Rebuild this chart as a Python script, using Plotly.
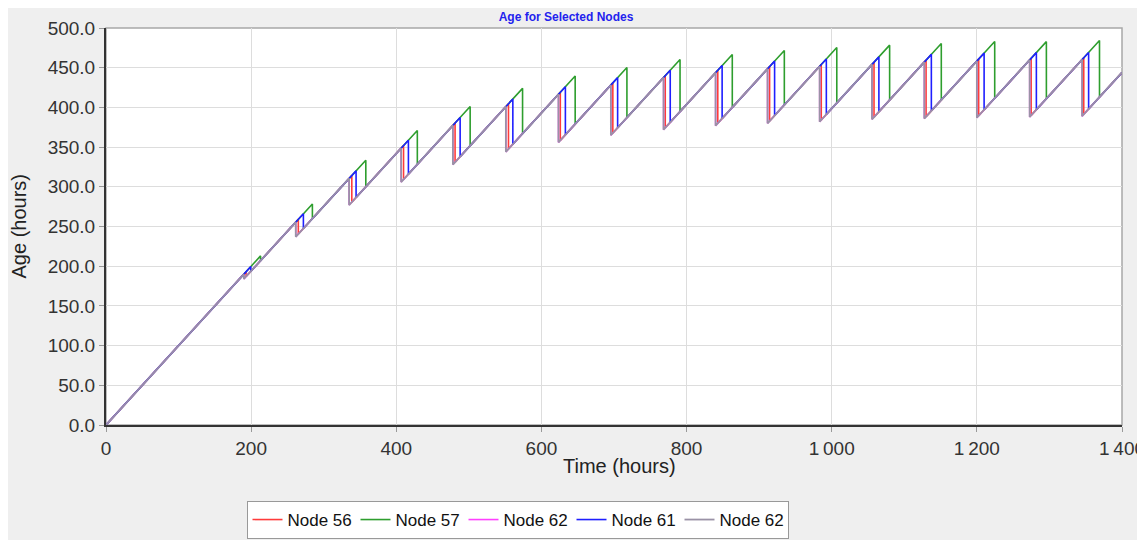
import plotly.graph_objects as go

# ---- data ----
# times (hours) at which each node receives successive updates
drop_node62 = [190, 261.5, 335, 406.7, 478, 551, 623.5, 695.7, 768.3, 840, 911.6, 983.4, 1055.5, 1127.6, 1200, 1272.8, 1345]
drop_node56 = [193, 265, 338.7, 410, 481, 554.6, 626, 698.4, 770.6, 843, 914.4, 985.6, 1058.3, 1130, 1202.5, 1274.8, 1347.3]
drop_node61 = [199.5, 272, 344.6, 416.7, 488, 560.6, 633, 705, 777.5, 849, 921.3, 992.6, 1065, 1137.3, 1210, 1282, 1354]
drop_node57 = [213, 284.4, 358, 429, 501.8, 574, 646.5, 717.8, 791, 863, 934.7, 1007, 1079.8, 1151, 1224.6, 1295.8, 1369]
# age (hours) right after the first node (Node 62) receives each update
age_after_update = [184, 237, 277, 306, 328, 344, 356, 365, 372, 377, 380, 382, 385, 386, 387, 388, 389]
t_end = 1400

x_ticks = [0, 200, 400, 600, 800, 1000, 1200, 1400]
y_ticks = [0, 50, 100, 150, 200, 250, 300, 350, 400, 450, 500]

# generation time of each update (age grows one hour per hour)
gen_time = [t - a for t, a in zip(drop_node62, age_after_update)]


def node_series(drops):
    xs, ys = [0], [0]
    prev_gen = 0
    for t, g in zip(drops, gen_time):
        xs += [t, t]
        ys += [t - prev_gen, t - g]
        prev_gen = g
    xs.append(t_end)
    ys.append(t_end - prev_gen)
    return xs, ys


series = [
    ("Node 56", drop_node56, "#ff3b3b", 1.6),
    ("Node 57", drop_node57, "#2e9e2e", 1.6),
    ("Node 62", drop_node62, "#ff40ff", 1.6),
    ("Node 61", drop_node61, "#1f1fff", 1.6),
    ("Node 62", drop_node62, "#9a92a6", 1.8),
]

fig = go.Figure()
for name, drops, color, w in series:
    xs, ys = node_series(drops)
    fig.add_trace(go.Scatter(x=xs, y=ys, mode="lines", name=name,
                             line=dict(color=color, width=w)))

# the page has an 8px body margin, so the figure starts at (8, 8) in the window
OFF = 8
W, H = 1145 - OFF, 540 - OFF
L, R, T, B = 106 - OFF, 23, 28 - OFF, 115
pw, ph = W - L - R, H - T - B

fig.update_layout(
    width=W, height=H,
    margin=dict(l=L, r=R, t=T, b=B, autoexpand=False),
    paper_bgcolor="#efefef",
    plot_bgcolor="white",
    separators=".\u2009",
    font=dict(family="Liberation Sans, Arial, sans-serif", color="#333333"),
    title=dict(text="<b>Age for Selected Nodes</b>", x=(566 - OFF) / W, xref="container",
               xanchor="center", y=1 - (17 - OFF) / H, yref="container", yanchor="middle",
               font=dict(size=12, color="#2222ee"), automargin=False),
    showlegend=True,
    legend=dict(orientation="h", xref="container", yref="container",
                x=(517.5 - OFF) / W, xanchor="center",
                y=1 - (501 - OFF) / H, yanchor="top",
                bgcolor="white", bordercolor="#999999", borderwidth=1,
                font=dict(size=17, color="#111111"), entrywidth=63,
                traceorder="normal"),
    xaxis=dict(range=[0, 1400], tickvals=x_ticks, separatethousands=True,
               showgrid=True, gridcolor="#dddddd", gridwidth=1,
               showline=True, linecolor="#333333", linewidth=2,
               ticks="outside", ticklen=5, tickcolor="#999999", automargin=False,
               ticklabeloverflow="allow",
               tickfont=dict(size=19, color="#333333"), zeroline=False),
    yaxis=dict(range=[0, 500], tickvals=y_ticks, tickformat=".1f",
               showgrid=True, gridcolor="#dddddd", gridwidth=1,
               showline=True, linecolor="#333333", linewidth=2,
               ticks="outside", ticklen=5, tickcolor="#999999", automargin=False,
               tickfont=dict(size=19, color="#333333"), zeroline=False),
    shapes=[
        dict(type="rect", xref="paper", yref="paper", x0=0, x1=1, y0=0, y1=1,
             line=dict(color="#a8a8a8", width=1.5), layer="below"),
    ],
    annotations=[
        dict(text="Age (hours)", xref="paper", yref="paper",
             x=(18 - 106) / pw, y=0.5, textangle=-90, showarrow=False,
             xanchor="center", yanchor="middle",
             font=dict(size=20, color="#222222")),
        dict(text="Time (hours)", xref="paper", yref="paper",
             x=(619 - 106) / pw, y=(425 - 466) / ph, showarrow=False,
             xanchor="center", yanchor="middle",
             font=dict(size=20, color="#222222")),
    ],
)

fig.write_html("out.html")
